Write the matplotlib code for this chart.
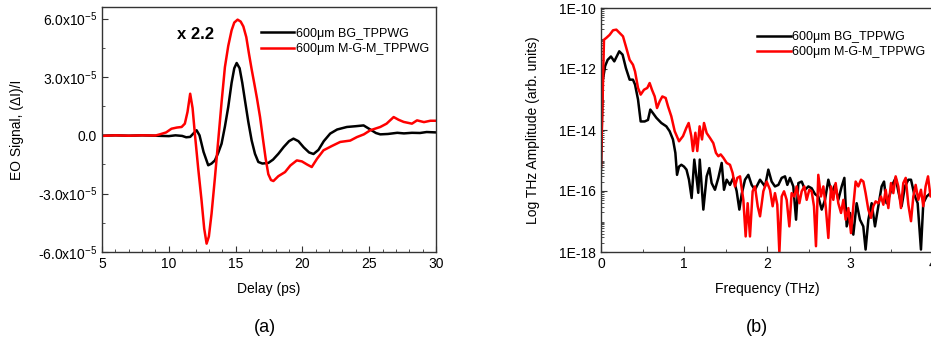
import numpy as np
import matplotlib
matplotlib.use("Agg")
import matplotlib.pyplot as plt
from matplotlib.ticker import MultipleLocator, FixedLocator, LogLocator, NullFormatter

plt.rcParams['font.family'] = ['Liberation Sans', 'DejaVu Sans']
plt.rcParams['mathtext.fontset'] = 'custom'
plt.rcParams['mathtext.rm'] = 'Liberation Sans'

# ---- (a) time-domain data, signal in units of 1e-5
delay_bg = [5, 6, 7, 8, 9, 10, 10.5, 11, 11.3, 11.6, 11.85, 12.08, 12.3, 12.6, 12.95,
            13.2, 13.45, 13.7, 13.95, 14.2, 14.45, 14.7, 14.9, 15.08, 15.3, 15.5, 15.7,
            15.95, 16.2, 16.45, 16.7, 17.0, 17.45, 17.8, 18.2, 18.6, 19.0, 19.33, 19.7,
            20.1, 20.5, 20.83, 21.2, 21.6, 22.08, 22.6, 23.33, 24.0, 24.58, 25.08, 25.5,
            25.83, 26.4, 27.1, 27.6, 28.2, 28.8, 29.3, 30]
sig_bg = [-0.02, 0.0, -0.02, 0.0, -0.02, -0.04, 0.0, -0.03, -0.1, -0.08, 0.1, 0.26,
          0.0, -0.85, -1.54, -1.45, -1.29, -0.9, -0.43, 0.45, 1.46, 2.7, 3.45, 3.72, 3.45,
          2.7, 1.8, 0.7, -0.26, -0.95, -1.37, -1.45, -1.42, -1.25, -0.95, -0.6, -0.3,
          -0.17, -0.3, -0.62, -0.88, -0.96, -0.75, -0.3, 0.09, 0.3, 0.43, 0.47, 0.51,
          0.3, 0.12, 0.05, 0.07, 0.13, 0.1, 0.13, 0.12, 0.17, 0.15]

delay_mgm = [5, 6, 7, 8, 9, 9.33, 9.8, 10.2, 10.6, 10.96, 11.2, 11.4, 11.6, 11.78,
             11.95, 12.2, 12.45, 12.65, 12.83, 13.0, 13.2, 13.45, 13.7, 13.95, 14.2,
             14.45, 14.7, 14.9, 15.15, 15.38, 15.58, 15.8, 16.0, 16.2, 16.4, 16.6, 16.83,
             17.05, 17.25, 17.45, 17.65, 17.83, 18.2, 18.7, 19.1, 19.58, 19.96, 20.35,
             20.7, 21.1, 21.58, 22.2, 22.83, 23.58, 24.08, 24.6, 25.08, 25.83, 26.3,
             26.83, 27.2, 27.58, 28.2, 28.58, 29.1, 29.58, 30]
sig_mgm = [-0.03, 0.0, -0.02, 0.0, -0.01, 0.05, 0.15, 0.34, 0.4, 0.43, 0.6, 1.2, 2.14,
           1.4, 0.09, -1.7, -3.34, -4.8, -5.57, -5.2, -4.03, -2.2, -0.26, 1.7, 3.51,
           4.6, 5.4, 5.8, 5.95, 5.85, 5.6, 5.05, 4.2, 3.4, 2.66, 1.9, 0.94, -0.2, -1.2,
           -2.0, -2.3, -2.35, -2.1, -1.89, -1.55, -1.29, -1.34, -1.5, -1.63, -1.2,
           -0.77, -0.55, -0.34, -0.27, -0.09, 0.05, 0.26, 0.43, 0.6, 0.94, 0.8, 0.69,
           0.6, 0.77, 0.68, 0.75, 0.75]

# ---- (b) spectra, log10 amplitude
freq_bg = [0.0, 0.02, 0.05, 0.08, 0.12, 0.16, 0.22, 0.26, 0.3, 0.345, 0.385, 0.41,
           0.446, 0.478, 0.526, 0.566, 0.594, 0.627, 0.667, 0.727, 0.787, 0.827, 0.867,
           0.896, 0.916, 0.94, 0.968, 1.0, 1.03, 1.06, 1.092, 1.124, 1.144, 1.172, 1.19,
           1.233, 1.273, 1.305, 1.333, 1.373, 1.414, 1.454, 1.482, 1.514, 1.554, 1.594,
           1.634, 1.667, 1.695, 1.735, 1.775, 1.815, 1.855, 1.916, 1.976, 2.016, 2.056,
           2.096, 2.137, 2.177, 2.217, 2.245, 2.277, 2.317, 2.35, 2.378, 2.418, 2.458,
           2.498, 2.538, 2.578, 2.618, 2.659, 2.699, 2.739, 2.779, 2.819, 2.859, 2.9,
           2.932, 2.96, 3.0, 3.04, 3.08, 3.12, 3.16, 3.188, 3.221, 3.261, 3.301, 3.341,
           3.381, 3.41, 3.44, 3.48, 3.52, 3.55, 3.582, 3.622, 3.662, 3.703, 3.735, 3.775,
           3.815, 3.855, 3.883, 3.923, 3.97, 4.0]
amp_bg = [-15.3, -12.4, -11.9, -11.7, -11.59, -11.75, -11.42, -11.53, -11.97, -12.35,
          -12.35, -12.51, -13.0, -13.72, -13.72, -13.67, -13.33, -13.45, -13.6, -13.77,
          -13.88, -14.04, -14.31, -14.75, -15.47, -15.2, -15.14, -15.2, -15.3, -15.63,
          -16.23, -14.97, -15.41, -16.06, -14.97, -16.61, -15.52, -15.25, -15.74, -15.96,
          -15.57, -15.08, -15.96, -15.63, -15.8, -15.57, -16.0, -16.61, -16.1, -15.63,
          -15.47, -15.8, -15.96, -15.63, -15.85, -15.3, -15.69, -15.85, -15.8, -15.57,
          -15.52, -15.8, -15.57, -15.85, -16.94, -15.74, -15.69, -15.96, -15.85, -15.91,
          -16.1, -16.18, -16.61, -16.29, -15.63, -16.07, -15.8, -16.29, -15.85, -15.57,
          -17.16, -16.72, -17.43, -16.4, -16.94, -17.16, -17.92, -16.94, -16.4, -17.16,
          -16.5, -15.85, -15.69, -16.4, -16.12, -15.74, -15.57, -16.01, -16.5, -15.85,
          -15.63, -15.63, -16.12, -16.4, -17.92, -16.4, -16.18, -16.07, -16.2]

freq_mgm = [0.0, 0.036, 0.064, 0.104, 0.145, 0.185, 0.225, 0.265, 0.305, 0.345, 0.385,
            0.41, 0.446, 0.478, 0.518, 0.558, 0.586, 0.614, 0.647, 0.675, 0.707, 0.739,
            0.779, 0.807, 0.847, 0.888, 0.94, 0.988, 1.028, 1.056, 1.088, 1.108, 1.137,
            1.16, 1.188, 1.217, 1.241, 1.273, 1.313, 1.353, 1.385, 1.414, 1.442, 1.474,
            1.514, 1.554, 1.586, 1.614, 1.642, 1.675, 1.715, 1.743, 1.767, 1.795, 1.827,
            1.855, 1.888, 1.916, 1.956, 1.996, 2.036, 2.068, 2.096, 2.124, 2.149, 2.177,
            2.205, 2.237, 2.269, 2.297, 2.329, 2.357, 2.39, 2.418, 2.45, 2.478, 2.51,
            2.538, 2.566, 2.59, 2.618, 2.65, 2.679, 2.707, 2.739, 2.771, 2.799, 2.827,
            2.859, 2.892, 2.92, 2.948, 2.98, 3.012, 3.04, 3.068, 3.1, 3.133, 3.161, 3.188,
            3.221, 3.253, 3.281, 3.309, 3.341, 3.373, 3.402, 3.43, 3.462, 3.494, 3.522,
            3.55, 3.582, 3.614, 3.642, 3.671, 3.703, 3.735, 3.763, 3.791, 3.823, 3.855,
            3.883, 3.911, 3.94, 3.97, 4.0]
amp_mgm = [-15.2, -11.04, -10.98, -10.88, -10.73, -10.71, -10.82, -10.93, -11.31, -11.7,
           -11.86, -12.08, -12.62, -12.84, -12.68, -12.62, -12.46, -12.68, -12.9, -13.28,
           -13.06, -12.9, -12.95, -13.22, -13.55, -14.04, -14.37, -14.2, -13.93, -13.77,
           -14.2, -14.69, -14.09, -14.69, -13.88, -14.31, -13.77, -14.1, -14.26, -14.43,
           -14.75, -14.86, -14.8, -14.91, -15.08, -15.14, -15.41, -15.85, -15.57, -15.52,
           -16.29, -17.49, -16.4, -17.49, -16.01, -15.85, -16.5, -16.83, -16.01, -15.69,
           -15.96, -16.5, -16.07, -16.45, -18.02, -16.18, -16.01, -16.29, -17.16, -16.07,
           -16.18, -15.85, -16.4, -16.01, -15.85, -16.29, -15.96, -16.01, -16.5, -17.81,
           -15.47, -16.18, -15.85, -16.5, -17.54, -15.85, -16.29, -15.74, -16.4, -16.72,
           -16.29, -16.94, -16.56, -17.38, -16.5, -15.69, -15.85, -15.63, -15.69, -16.07,
           -16.61, -16.88, -16.5, -16.34, -16.4, -16.18, -16.45, -15.96, -16.56, -15.74,
           -16.07, -15.52, -15.85, -16.56, -15.74, -15.57, -16.45, -16.99, -16.18, -15.8,
           -16.29, -15.96, -16.5, -15.85, -15.52, -16.18, -16.0]

label_bg = "600\u03bcm BG_TPPWG"
label_mgm = "600\u03bcm M-G-M_TPPWG"

fig = plt.figure(figsize=(9.31, 3.45), dpi=100)
W, H = 931.0, 345.0
ax1 = fig.add_axes([102 / W, 93 / H, 334 / W, 245 / H])
ax2 = fig.add_axes([601 / W, 93 / H, 332 / W, 244 / H])

lw = 1.8
ax1.plot(delay_bg, np.array(sig_bg) * 1e-5, color='black', lw=lw, label=label_bg)
ax1.plot(delay_mgm, np.array(sig_mgm) * 1e-5, color='#ff0000', lw=lw, label=label_mgm)
ax1.set_xlim(5, 30)
ax1.set_ylim(-6e-5, 6.6e-5)
ax1.xaxis.set_major_locator(MultipleLocator(5))
ax1.xaxis.set_minor_locator(MultipleLocator(1))
ax1.yaxis.set_major_locator(FixedLocator([-6e-5, -3e-5, 0, 3e-5, 6e-5]))
ax1.yaxis.set_minor_locator(FixedLocator([-4.5e-5, -1.5e-5, 1.5e-5, 4.5e-5]))
ax1.set_yticklabels([r'-6.0x10$^{-5}$', r'-3.0x10$^{-5}$', '0.0',
                     r'3.0x10$^{-5}$', r'6.0x10$^{-5}$'])
ax1.set_xlabel('Delay (ps)', fontsize=10)
ax1.set_ylabel('EO Signal, (\u0394I)/I', fontsize=10)
ax1.xaxis.set_label_coords(0.5, -0.122)
ax1.yaxis.set_label_coords(-0.234, 0.5)
ax1.text(10.6, 5.2e-5, 'x 2.2', fontsize=12, fontweight='bold', va='center')
ax1.legend(loc='upper left', bbox_to_anchor=(0.475, 0.915), frameon=False,
           fontsize=9, handlelength=2.7, handletextpad=0.1, labelspacing=0.25,
           borderaxespad=0, borderpad=0)

ax2.plot(freq_bg, 10.0 ** np.array(amp_bg), color='black', lw=lw, label=label_bg)
ax2.plot(freq_mgm, 10.0 ** np.array(amp_mgm), color='#ff0000', lw=lw, label=label_mgm)
ax2.set_yscale('log')
ax2.set_xlim(0, 4)
ax2.set_ylim(1e-18, 1e-10)
ax2.xaxis.set_major_locator(MultipleLocator(1))
ax2.xaxis.set_minor_locator(MultipleLocator(0.5))
ax2.yaxis.set_major_locator(FixedLocator([1e-18, 1e-16, 1e-14, 1e-12, 1e-10]))
ax2.yaxis.set_minor_locator(LogLocator(base=10, subs=np.arange(1, 10), numticks=20))
ax2.yaxis.set_minor_formatter(NullFormatter())
ax2.set_yticklabels(['1E-18', '1E-16', '1E-14', '1E-12', '1E-10'])
ax2.set_xlabel('Frequency (THz)', fontsize=10)
ax2.set_ylabel('Log THz Amplitude (arb. units)', fontsize=10)
ax2.xaxis.set_label_coords(0.5, -0.122)
ax2.yaxis.set_label_coords(-0.184, 0.5)
ax2.legend(loc='upper left', bbox_to_anchor=(0.47, 0.905), frameon=False,
           fontsize=9, handlelength=2.7, handletextpad=0.1, labelspacing=0.25,
           borderaxespad=0, borderpad=0)

for ax in (ax1, ax2):
    ax.tick_params(which='both', direction='in', labelsize=10, color='#333333')
    ax.tick_params(which='major', length=4)
    ax.tick_params(which='minor', length=2)
    for s in ax.spines.values():
        s.set_color('#333333')
        s.set_linewidth(1.0)

fig.text(265 / W, 1 - 327 / H, '(a)', fontsize=13, ha='center', va='center')
fig.text(757 / W, 1 - 327 / H, '(b)', fontsize=13, ha='center', va='center')

fig.savefig('out.png', dpi=100)
